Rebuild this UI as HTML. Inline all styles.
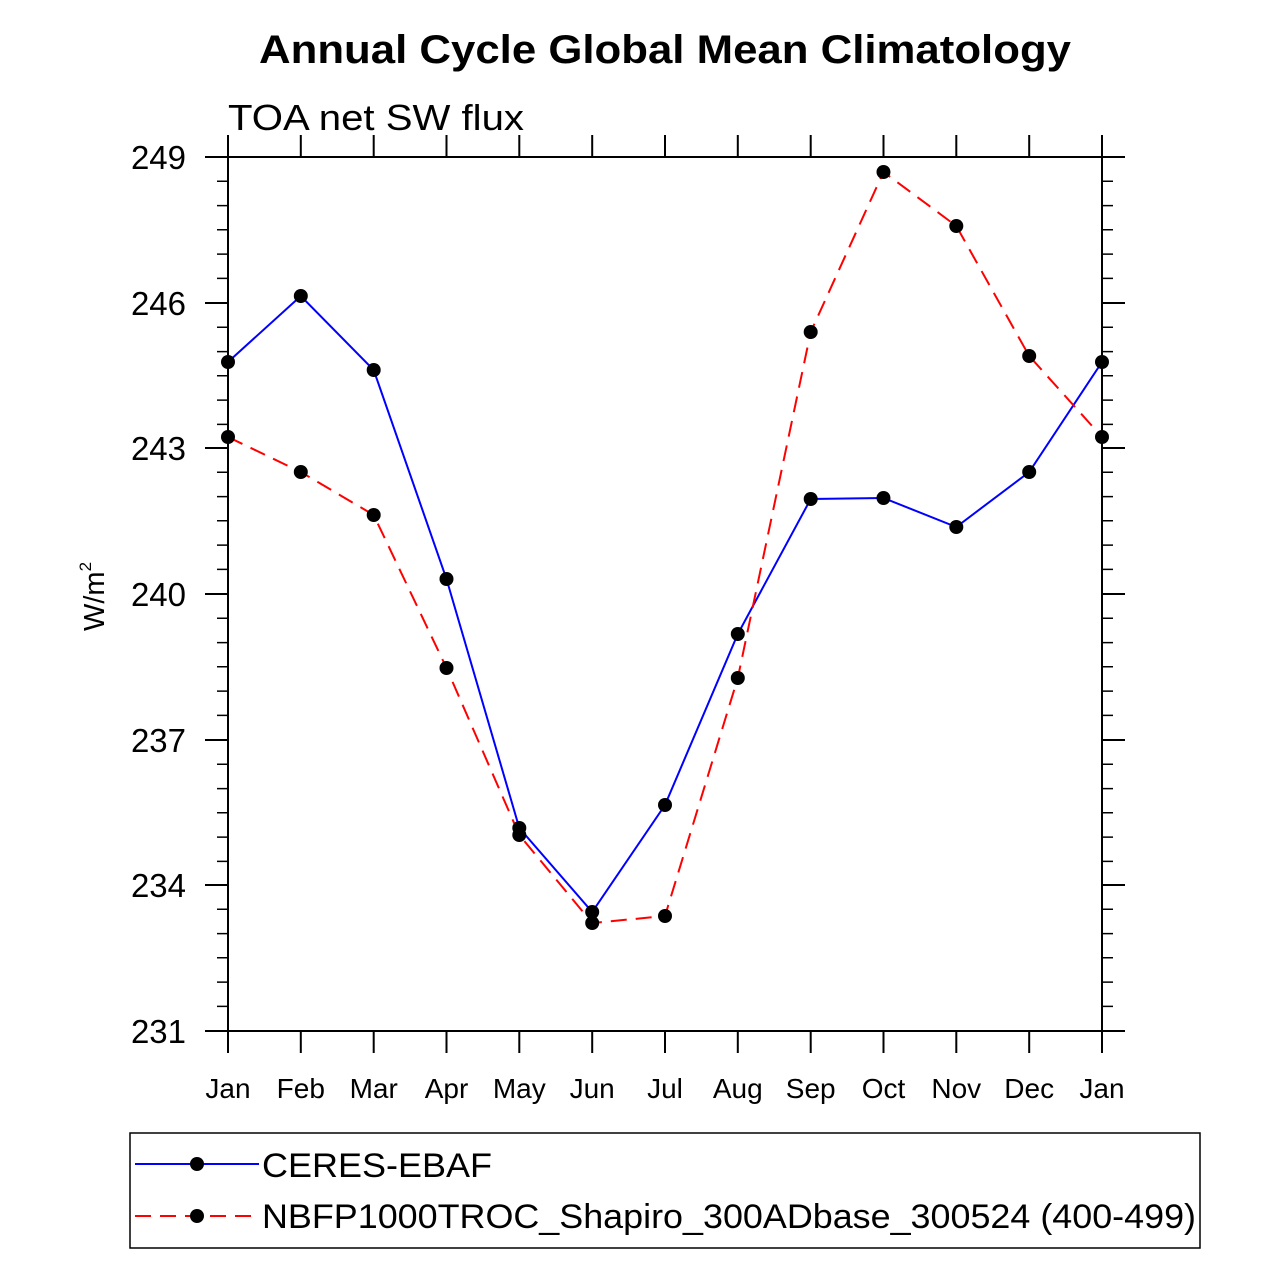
<!DOCTYPE html>
<html><head><meta charset="utf-8"><style>html,body{margin:0;padding:0;background:#fff}svg{display:block}</style></head>
<body>
<svg width="1279" height="1279" viewBox="0 0 1279 1279" xmlns="http://www.w3.org/2000/svg" font-family="Liberation Sans, Arial, sans-serif">
<rect width="1279" height="1279" fill="#fff"/>
<text x="665" y="63" font-size="40" font-weight="bold" text-anchor="middle" textLength="812" lengthAdjust="spacingAndGlyphs">Annual Cycle Global Mean Climatology</text>
<text x="228" y="130" font-size="36" textLength="296" lengthAdjust="spacingAndGlyphs">TOA net SW flux</text>
<g stroke="#000" stroke-width="2" fill="none">
<rect x="228" y="157" width="874" height="874"/>
</g>
<g stroke="#000" stroke-width="2">
<path d="M205 157H228M205 303H228M205 448H228M205 594H228M205 740H228M205 885H228M205 1031H228
M1102 157H1125M1102 303H1125M1102 448H1125M1102 594H1125M1102 740H1125M1102 885H1125M1102 1031H1125"/>
<path d="M228 1031V1053M300.8 1031V1053M373.7 1031V1053M446.5 1031V1053M519.3 1031V1053M592.2 1031V1053M665 1031V1053M737.8 1031V1053M810.7 1031V1053M883.5 1031V1053M956.3 1031V1053M1029.2 1031V1053M1102 1031V1053
M228 135V157M300.8 135V157M373.7 135V157M446.5 135V157M519.3 135V157M592.2 135V157M665 135V157M737.8 135V157M810.7 135V157M883.5 135V157M956.3 135V157M1029.2 135V157M1102 135V157"/>
</g>
<g stroke="#000" stroke-width="1.5">
<path d="M217 181.3H228M217 205.6H228M217 229.8H228M217 254.1H228M217 278.4H228
M217 327.3H228M217 351.6H228M217 375.8H228M217 400.1H228M217 424.4H228
M217 472.3H228M217 496.6H228M217 520.8H228M217 545.1H228M217 569.4H228
M217 618.3H228M217 642.6H228M217 666.8H228M217 691.1H228M217 715.4H228
M217 764.3H228M217 788.6H228M217 812.8H228M217 837.1H228M217 861.4H228
M217 909.3H228M217 933.6H228M217 957.8H228M217 982.1H228M217 1006.4H228
M1102 181.3H1113M1102 205.6H1113M1102 229.8H1113M1102 254.1H1113M1102 278.4H1113
M1102 327.3H1113M1102 351.6H1113M1102 375.8H1113M1102 400.1H1113M1102 424.4H1113
M1102 472.3H1113M1102 496.6H1113M1102 520.8H1113M1102 545.1H1113M1102 569.4H1113
M1102 618.3H1113M1102 642.6H1113M1102 666.8H1113M1102 691.1H1113M1102 715.4H1113
M1102 764.3H1113M1102 788.6H1113M1102 812.8H1113M1102 837.1H1113M1102 861.4H1113
M1102 909.3H1113M1102 933.6H1113M1102 957.8H1113M1102 982.1H1113M1102 1006.4H1113"/>
</g>
<g font-size="33" text-anchor="end">
<text x="186" y="169">249</text><text x="186" y="315">246</text><text x="186" y="460">243</text>
<text x="186" y="606">240</text><text x="186" y="752">237</text><text x="186" y="897">234</text><text x="186" y="1043">231</text>
</g>
<g font-size="28" text-anchor="middle">
<text x="228" y="1098">Jan</text><text x="300.8" y="1098">Feb</text><text x="373.7" y="1098">Mar</text><text x="446.5" y="1098">Apr</text>
<text x="519.3" y="1098">May</text><text x="592.2" y="1098">Jun</text><text x="665" y="1098">Jul</text><text x="737.8" y="1098">Aug</text>
<text x="810.7" y="1098">Sep</text><text x="883.5" y="1098">Oct</text><text x="956.3" y="1098">Nov</text><text x="1029.2" y="1098">Dec</text>
<text x="1102" y="1098">Jan</text>
</g>
<text transform="translate(104,631) rotate(-90)" font-size="29">W/m<tspan font-size="17" dy="-13">2</tspan></text>
<polyline fill="none" stroke="#0000ff" stroke-width="2" points="228,362 300.8,296 373.7,370 446.5,579 519.3,828 592.2,912 665,805 737.8,634 810.7,499 883.5,498 956.3,527 1029.2,472 1102,362"/>
<polyline fill="none" stroke="#ff0000" stroke-width="2" stroke-dasharray="16,9" points="228,437 300.8,472 373.7,515 446.5,668 519.3,835 592.2,923 665,916 737.8,678 810.7,332 883.5,172 956.3,226 1029.2,356 1102,437"/>
<g fill="#000">
<circle cx="228" cy="362" r="7"/><circle cx="300.8" cy="296" r="7"/><circle cx="373.7" cy="370" r="7"/><circle cx="446.5" cy="579" r="7"/><circle cx="519.3" cy="828" r="7"/><circle cx="592.2" cy="912" r="7"/><circle cx="665" cy="805" r="7"/><circle cx="737.8" cy="634" r="7"/><circle cx="810.7" cy="499" r="7"/><circle cx="883.5" cy="498" r="7"/><circle cx="956.3" cy="527" r="7"/><circle cx="1029.2" cy="472" r="7"/><circle cx="1102" cy="362" r="7"/>
<circle cx="228" cy="437" r="7"/><circle cx="300.8" cy="472" r="7"/><circle cx="373.7" cy="515" r="7"/><circle cx="446.5" cy="668" r="7"/><circle cx="519.3" cy="835" r="7"/><circle cx="592.2" cy="923" r="7"/><circle cx="665" cy="916" r="7"/><circle cx="737.8" cy="678" r="7"/><circle cx="810.7" cy="332" r="7"/><circle cx="883.5" cy="172" r="7"/><circle cx="956.3" cy="226" r="7"/><circle cx="1029.2" cy="356" r="7"/><circle cx="1102" cy="437" r="7"/>
</g>
<rect x="130" y="1133" width="1070" height="115" fill="none" stroke="#000" stroke-width="1.5"/>
<line x1="135" y1="1164" x2="259" y2="1164" stroke="#0000ff" stroke-width="2"/>
<circle cx="197" cy="1164" r="7"/>
<line x1="135" y1="1216" x2="259" y2="1216" stroke="#ff0000" stroke-width="2" stroke-dasharray="16,9"/>
<circle cx="197" cy="1216" r="7"/>
<text x="262" y="1177" font-size="34" textLength="230" lengthAdjust="spacingAndGlyphs">CERES-EBAF</text>
<text x="262" y="1228" font-size="34" textLength="934" lengthAdjust="spacingAndGlyphs">NBFP1000TROC_Shapiro_300ADbase_300524 (400-499)</text>
</svg>
</body></html>
